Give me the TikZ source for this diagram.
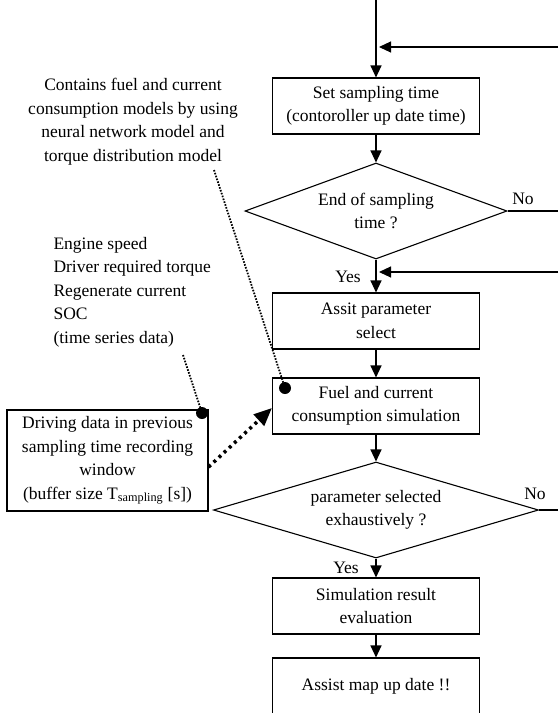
\documentclass[tikz,border=0pt]{standalone}
\usepackage{fontspec}
\setmainfont{Liberation Serif}
\usetikzlibrary{shapes.geometric,arrows.meta}
\tikzset{
  procbox/.style={draw, line width=1.1pt, minimum width=207pt, minimum height=56pt, align=center, inner sep=2pt},
  decbox/.style={draw, diamond, line width=1.1pt, minimum height=96pt, inner sep=0pt, align=center},
  flow/.style={line width=1.1pt, -{Triangle[length=12pt,width=11pt]}},
  leader/.style={line width=1.8pt, dash pattern=on 1.6pt off 1.4pt},
  blob/.style={circle, fill, inner sep=0pt, minimum size=12pt},
}
\begin{document}
\begin{tikzpicture}[x=1pt,y=-1pt,font=\fontsize{17.5}{23.5}\selectfont]
\useasboundingbox (0,0) rectangle (560,713);
\clip (0,0) rectangle (560,712);
%%% main flow
\node[procbox] (setT) at (376,106) {Set sampling time\\(contoroller up date time)};
\node[decbox, minimum width=262pt, aspect=2.73] (endT) at (376,211) {End of sampling\\time ?};
\node[procbox] (sel) at (376,321) {Assit parameter\\select};
\node[procbox] (sim) at (376,406) {Fuel and current\\consumption simulation};
\node[decbox, minimum width=325pt, aspect=3.39] (done) at (376,510) {parameter selected\\exhaustively ?};
\node[procbox] (eval) at (376,606) {Simulation result\\evaluation};
\node[procbox] (upd) at (376,686) {Assist map up date !!};
%%% labels
\node (no1) at (523,199) {No};
\node (yes1) at (348,277) {Yes};
\node (no2) at (535,494) {No};
\node (yes2) at (346,568) {Yes};
%%% loop ends (right side is cut)
\coordinate (in) at (376,0);
\coordinate (ret1) at (558,47);
\coordinate (hit1) at (379,47);
\coordinate (ret2) at (558,272);
\coordinate (hit2) at (379,272);
\coordinate (out1) at (558,211);
\coordinate (out2) at (558,510);
\draw[flow] (in) -- (setT);
\draw[flow] (ret1) -- (hit1);
\draw[flow] (setT) -- (endT);
\draw[line width=1.1pt] (endT.east) -- (out1);
\draw[flow] (endT) -- (sel);
\draw[flow] (ret2) -- (hit2);
\draw[flow] (sel) -- (sim);
\draw[flow] (sim) -- (done);
\draw[line width=1.1pt] (done.east) -- (out2);
\draw[flow] (done) -- (eval);
\draw[flow] (eval) -- (upd);
%%% side notes
\node[align=center] (note) at (133,121.5) {Contains fuel and current\\consumption models by using\\neural network model and\\torque distribution model};
\node[align=left, anchor=west] (sig) at (50,292) {Engine speed\\Driver required torque\\Regenerate current\\SOC\\(time series data)};
\node[draw, line width=1.1pt, minimum width=201pt, minimum height=101pt, align=center, inner sep=1pt] (drv) at (107.5,460.5)
{Driving data in previous\\sampling time recording\\window\\(buffer size T\textsubscript{sampling} [s])};
% dotted leaders
\node[blob] (dotsim) at (285,388) {};
\node[blob] (dotdrv) at (202,413) {};
\coordinate (lead1) at (214,170);
\coordinate (lead2) at (183,355);
\draw[leader] (lead1) -- (dotsim.center);
\draw[leader] (lead2) -- (dotdrv.center);
\draw[line width=3.5pt, dash pattern=on 3pt off 4pt, -{Triangle[length=18pt,width=15pt]}]
  ([yshift=-6.5pt]drv.east) -- ([yshift=-2pt]sim.west);
\end{tikzpicture}
\end{document}
